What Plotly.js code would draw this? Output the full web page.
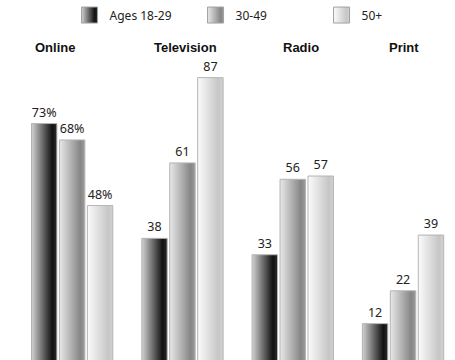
<!DOCTYPE html>
<html>
<head>
<meta charset="utf-8">
<script src="https://cdn.plot.ly/plotly-3.0.1.min.js"></script>
<style>
  html, body { margin: 0; padding: 0; background: #ffffff; }
  #chart { width: 455px; height: 360px; }
</style>
</head>
<body>
<div id="chart"></div>
<script>
// Media categories and share of each age group using them
const categories = ['Online', 'Television', 'Radio', 'Print'];
const seriesNames = ['Ages 18-29', '30-49', '50+'];
const ages18to29 = [73, 38, 33, 12];
const ages30to49 = [68, 61, 56, 22];
const ages50plus = [48, 87, 57, 39];

// Online figures are printed with a percent sign, the rest as plain numbers
function labelsFor(values) {
  return values.map((v, i) => categories[i] === 'Online' ? v + '%' : String(v));
}

// horizontal gradient per series: light on the left, darkest near the right edge
const gradients = [
  [['0%', '#d2d2d2'], ['82%', '#111111'], ['100%', '#2c2c2c']],
  [['0%', '#e8e8e8'], ['82%', '#868686'], ['100%', '#9c9c9c']],
  [['0%', '#fbfbfb'], ['82%', '#c6c6c6'], ['100%', '#d2d2d2']]
];
const baseColors = ['#555555', '#b0b0b0', '#e6e6e6'];

const allValues = [ages18to29, ages30to49, ages50plus];
const traces = allValues.map((vals, k) => ({
  type: 'bar',
  name: seriesNames[k],
  x: categories,
  y: vals,
  text: labelsFor(vals),
  textposition: 'outside',
  cliponaxis: false,
  textfont: { family: 'Noto Sans, sans-serif', size: 12.5, color: '#222222' },
  marker: { color: baseColors[k], line: { color: '#b4b4b4', width: 1 } },
  hoverinfo: 'skip'
}));

// column headers above each group
const headerShift = [-17, 3, 8, 1];
const headers = categories.map((c, i) => ({
  x: c, xref: 'x', y: 1.023, yref: 'paper',
  text: '<b>' + c + '</b>', showarrow: false,
  xshift: headerShift[i], yanchor: 'middle',
  font: { family: 'Liberation Sans, Arial, sans-serif', size: 13, color: '#111111' }
}));

const layout = {
  width: 455, height: 360,
  margin: { l: 17, r: 0, t: 55, b: 0, autoexpand: false },
  paper_bgcolor: '#ffffff', plot_bgcolor: '#ffffff',
  barmode: 'group', bargap: 0.24, bargroupgap: 0.09,
  showlegend: true,
  legend: {
    orientation: 'h', x: 0.12, xanchor: 'left', y: 1.131, yanchor: 'middle',
    entrywidth: 81, entrywidthmode: 'pixels',
    font: { family: 'Noto Sans, sans-serif', size: 12, color: '#222222' },
    bgcolor: 'rgba(0,0,0,0)'
  },
  xaxis: { range: [-0.5, 3.471], visible: false, fixedrange: true },
  // the baseline sits just below the bottom edge, so bars run off the page
  yaxis: { range: [0.91, 93.9], visible: false, fixedrange: true },
  annotations: headers
};

const gd = document.getElementById('chart');
Plotly.newPlot(gd, traces, layout, { displayModeBar: false, staticPlot: true }).then(() => {
  const svgNS = 'http://www.w3.org/2000/svg';
  const defs = gd.querySelector('svg.main-svg defs');
  gradients.forEach((stops, k) => {
    const lg = document.createElementNS(svgNS, 'linearGradient');
    lg.setAttribute('id', 'barShade' + k);
    lg.setAttribute('x1', '0'); lg.setAttribute('y1', '0');
    lg.setAttribute('x2', '1'); lg.setAttribute('y2', '0');
    stops.forEach(([off, col]) => {
      const s = document.createElementNS(svgNS, 'stop');
      s.setAttribute('offset', off);
      s.setAttribute('stop-color', col);
      lg.appendChild(s);
    });
    defs.appendChild(lg);
  });
  // shade the bars
  gd.querySelectorAll('.barlayer .trace').forEach((tr, k) => {
    tr.querySelectorAll('.point path').forEach(p => { p.style.fill = 'url(#barShade' + k + ')'; });
  });
  // shade the legend swatches and make them a little larger
  gd.querySelectorAll('.legend .traces').forEach((tr, k) => {
    tr.querySelectorAll('.legendpoints path').forEach(p => {
      p.setAttribute('d', 'M8,8H-8V-8H8Z');
      p.style.fill = 'url(#barShade' + k + ')';
      p.style.stroke = '#a0a0a0';
      p.style.strokeWidth = '1px';
    });
  });
});
</script>
</body>
</html>
